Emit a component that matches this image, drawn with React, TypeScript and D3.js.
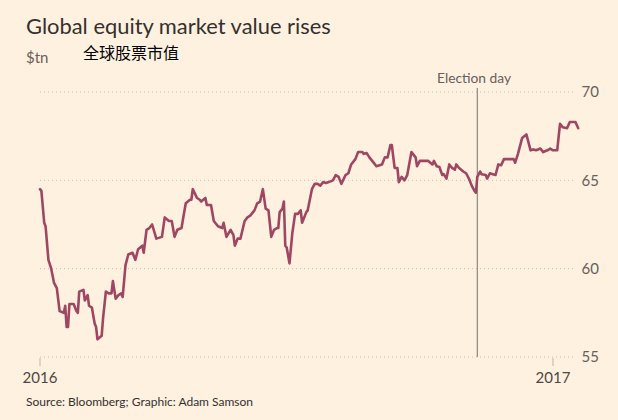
import React from "react";
import * as d3 from "d3";

const W = 618;
const H = 420;

const title = "Global equity market value rises";
const unitLabel = "$tn";
const chineseLabel = "全球股票市值";
const sourceText = "Source: Bloomberg; Graphic: Adam Samson";
const eventLabel = "Election day";
const eventDate = "2016-11-08";

const yTicks = [55, 60, 65, 70];
const xTickDates = ["2016-01-01", "2017-01-01"];
const xTickLabels = ["2016", "2017"];

const dates = [
  "2016-01-01","2016-01-02","2016-01-04","2016-01-05","2016-01-07","2016-01-09","2016-01-11","2016-01-13","2016-01-15","2016-01-18",
  "2016-01-19","2016-01-20","2016-01-21","2016-01-22","2016-01-25","2016-01-27","2016-01-28","2016-01-29",
  "2016-02-01","2016-02-02","2016-02-04","2016-02-05","2016-02-07","2016-02-09","2016-02-10","2016-02-11","2016-02-14","2016-02-15",
  "2016-02-17","2016-02-19","2016-02-21","2016-02-22","2016-02-24","2016-02-26","2016-02-28","2016-02-29",
  "2016-03-02","2016-03-04","2016-03-07","2016-03-09","2016-03-11","2016-03-14","2016-03-15","2016-03-17","2016-03-19","2016-03-21",
  "2016-03-24","2016-03-28","2016-03-30",
  "2016-04-02","2016-04-04","2016-04-06","2016-04-08","2016-04-11","2016-04-12","2016-04-14","2016-04-17","2016-04-18","2016-04-19",
  "2016-04-22","2016-04-24","2016-04-25","2016-04-28","2016-04-29",
  "2016-05-02","2016-05-04","2016-05-07","2016-05-10","2016-05-11","2016-05-13","2016-05-16","2016-05-18","2016-05-19","2016-05-21",
  "2016-05-23","2016-05-26","2016-05-28","2016-05-30",
  "2016-06-02","2016-06-04","2016-06-06","2016-06-08","2016-06-10","2016-06-12","2016-06-14","2016-06-16","2016-06-18","2016-06-19",
  "2016-06-20","2016-06-22","2016-06-23","2016-06-24","2016-06-25","2016-06-27","2016-06-29",
  "2016-07-01","2016-07-03","2016-07-05","2016-07-06","2016-07-09","2016-07-10","2016-07-13","2016-07-15","2016-07-17","2016-07-19",
  "2016-07-21","2016-07-23","2016-07-25","2016-07-28","2016-07-30",
  "2016-08-01","2016-08-03","2016-08-06","2016-08-08","2016-08-10","2016-08-13","2016-08-15","2016-08-18","2016-08-19","2016-08-21",
  "2016-08-23","2016-08-26","2016-08-28",
  "2016-09-01","2016-09-03","2016-09-05","2016-09-07","2016-09-08","2016-09-10","2016-09-12","2016-09-13","2016-09-15","2016-09-17",
  "2016-09-19","2016-09-22","2016-09-25","2016-09-26","2016-09-28","2016-09-30",
  "2016-10-04","2016-10-07","2016-10-08","2016-10-10","2016-10-12","2016-10-14","2016-10-15","2016-10-17","2016-10-19","2016-10-21",
  "2016-10-23","2016-10-24","2016-10-26","2016-10-29","2016-10-31",
  "2016-11-02","2016-11-04","2016-11-06","2016-11-07","2016-11-08","2016-11-10","2016-11-11","2016-11-14","2016-11-15","2016-11-17",
  "2016-11-19","2016-11-21","2016-11-23","2016-11-25","2016-11-27","2016-11-30",
  "2016-12-04","2016-12-05","2016-12-07","2016-12-10","2016-12-13","2016-12-14","2016-12-16","2016-12-18","2016-12-20","2016-12-23",
  "2016-12-25","2016-12-28","2016-12-30",
  "2017-01-01","2017-01-04","2017-01-06","2017-01-08","2017-01-11","2017-01-13","2017-01-15","2017-01-17","2017-01-19",
];

const values = [
  64.5, 64.4, 62.6, 62.4, 60.5, 60.0, 59.2, 58.9, 57.6, 57.5,
  57.9, 56.7, 56.7, 58.0, 58.0, 57.6, 57.5, 58.7,
  58.8, 58.2, 58.5, 57.9, 57.8, 56.9, 56.7, 56.0, 56.2, 57.2,
  58.7, 58.6, 58.6, 59.3, 58.3, 58.5, 58.6, 58.4,
  60.2, 60.8, 60.9, 60.5, 61.1, 61.3, 60.9, 62.2, 62.3, 62.5,
  61.7, 61.8, 62.9,
  62.7, 62.7, 61.8, 62.2, 62.3, 62.8, 63.7, 63.9, 63.9, 64.5,
  64.0, 63.9, 63.8, 64.0, 63.6,
  63.6, 62.7, 62.4, 62.3, 62.6, 61.8, 62.2, 61.9, 61.3, 61.7,
  61.7, 62.7, 62.9, 63.0,
  63.3, 63.7, 63.8, 64.5, 63.4, 63.3, 61.8, 62.2, 62.3, 62.3,
  63.2, 63.4, 63.8, 61.3, 61.2, 60.3, 62.0,
  63.1, 63.1, 63.3, 62.6, 63.2, 63.3, 64.5, 64.8, 64.8, 64.7,
  64.9, 64.85, 64.9, 65.0, 65.3,
  65.2, 64.8, 65.3, 65.4, 65.9, 66.2, 66.6, 66.6, 66.5, 66.55,
  66.3, 66.0, 65.8,
  65.9, 66.3, 66.3, 67.0, 67.0, 65.7, 65.7, 64.9, 65.2, 65.0,
  65.3, 66.6, 66.3, 65.8, 66.1, 66.1,
  66.1, 65.9, 66.1, 65.8, 65.75, 65.3, 65.35, 65.1, 65.9, 65.7,
  65.6, 65.9, 65.7, 65.5, 65.4,
  65.1, 64.7, 64.4, 64.3, 65.2, 65.5, 65.35, 65.3, 65.1, 65.4,
  65.35, 65.3, 65.9, 65.85, 66.2, 66.2,
  66.2, 66.0, 66.5, 67.4, 67.6, 67.3, 66.7, 66.75, 66.7, 66.8,
  66.6, 66.7, 66.8,
  66.7, 66.7, 68.2, 68.0, 67.95, 68.3, 68.3, 68.3, 67.95,
];

const FONT = "Lato, 'Open Sans', sans-serif";
const BG = "#fff1e0";
const LINE = "#9e4763";
const TEXT = "#33302e";
const MUTED = "#66605c";
const GRID = "#c9bdb2";

export default function App() {
  const parse = d3.timeParse("%Y-%m-%d");
  const data = dates.map((d, i) => ({ date: parse(d) as Date, value: values[i] }));

  const x = d3
    .scaleTime()
    .domain([parse(xTickDates[0]) as Date, parse(xTickDates[1]) as Date])
    .range([40, 553]);
  const y = d3.scaleLinear().domain([55, 70]).range([357, 92]);

  const line = d3
    .line<{ date: Date; value: number }>()
    .x((d) => x(d.date))
    .y((d) => y(d.value))
    .curve(d3.curveLinear);

  const evX = x(parse(eventDate) as Date);

  return (
    <svg
      width={W}
      height={H}
      style={{ position: "absolute", left: 0, top: 0, display: "block" }}
      fontFamily={FONT}
    >
      <rect x={0} y={0} width={W} height={H} fill={BG} />

      <text x={26} y={34} fontSize={21.9} fill={TEXT}>
        {title}
      </text>
      <text x={26} y={63} fontSize={15} fill={MUTED}>
        {unitLabel}
      </text>
      <text
        x={83}
        y={59}
        fontSize={16}
        fill="#000"
        fontFamily="'Noto Sans CJK SC', sans-serif"
      >
        {chineseLabel}
      </text>

      {yTicks.map((t) => (
        <g key={t}>
          <line
            x1={40}
            x2={574}
            y1={y(t)}
            y2={y(t)}
            stroke={GRID}
            strokeWidth={1}
            strokeDasharray="1,3"
          />
          <text
            x={599}
            y={y(t)}
            dy="0.36em"
            fontSize={15}
            fill={MUTED}
            textAnchor="end"
          >
            {t}
          </text>
        </g>
      ))}

      {xTickDates.map((d, i) => {
        const xx = x(parse(d) as Date);
        return (
          <g key={d}>
            <line x1={xx} x2={xx} y1={358} y2={366} stroke="#bdb3aa" strokeWidth={1} />
            <text x={xx} y={383} fontSize={15} fill="#4d4845" textAnchor="middle">
              {xTickLabels[i]}
            </text>
          </g>
        );
      })}

      <line x1={evX} x2={evX} y1={88} y2={357} stroke="#8c8682" strokeWidth={1.2} />
      <text x={437} y={83} fontSize={13.8} fill={MUTED}>
        {eventLabel}
      </text>

      <path
        d={line(data) || ""}
        fill="none"
        stroke={LINE}
        strokeWidth={2.6}
        strokeLinejoin="round"
        strokeLinecap="round"
      />

      <text x={26} y={406} fontSize={12} fill={TEXT}>
        {sourceText}
      </text>
    </svg>
  );
}
